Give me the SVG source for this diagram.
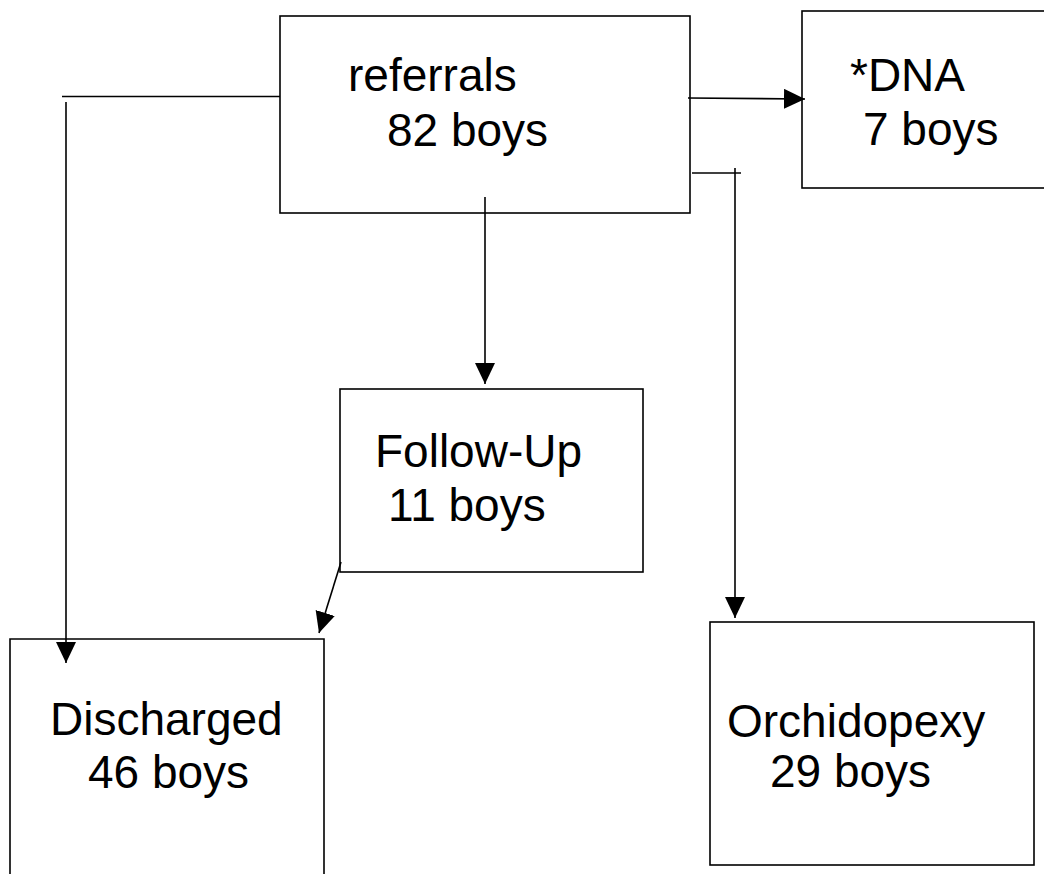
<svg xmlns="http://www.w3.org/2000/svg" width="1044" height="874" viewBox="0 0 1044 874">
<style>
.box{fill:#fff;stroke:#000;stroke-width:1.6}
.ln{fill:none;stroke:#000;stroke-width:1.6}
.t{font-family:"Liberation Sans",Arial,sans-serif;font-size:46px;fill:#000}
</style>
<defs>
<marker id="ah" markerUnits="userSpaceOnUse" markerWidth="22" markerHeight="20" refX="21" refY="10" orient="auto">
<path d="M0,0 L21,10 L0,20 Z" fill="#000"/>
</marker>
</defs>
<rect width="1044" height="874" fill="#fff"/>
<g id="referrals">
<rect class="box" x="280" y="16" width="410" height="197"/>
<text class="t" x="348" y="91">referrals</text>
<text class="t" x="387" y="146">82 boys</text>
</g>
<g id="dna">
<rect class="box" x="802" y="11" width="260" height="177"/>
<text class="t" x="850" y="91">*DNA</text>
<text class="t" x="863" y="145">7 boys</text>
</g>
<g id="followup">
<rect class="box" x="340" y="389" width="303" height="183"/>
<text class="t" x="375" y="467">Follow-Up</text>
<text class="t" x="388" y="521">11 boys</text>
</g>
<g id="discharged">
<path class="ln" d="M10,880 V639 H324 V880"/>
<text class="t" x="50" y="735">Discharged</text>
<text class="t" x="88" y="788">46 boys</text>
</g>
<g id="orchidopexy">
<rect class="box" x="710" y="622" width="324" height="243"/>
<text class="t" x="727" y="737">Orchidopexy</text>
<text class="t" x="770" y="787">29 boys</text>
</g>
<g id="connectors">
<line class="ln" x1="62" y1="96.5" x2="280" y2="96.5"/>
<line class="ln" x1="66" y1="102" x2="66" y2="663" marker-end="url(#ah)"/>
<line class="ln" x1="688" y1="98" x2="805" y2="99" marker-end="url(#ah)"/>
<line class="ln" x1="692" y1="173" x2="741" y2="173"/>
<line class="ln" x1="735" y1="168" x2="735" y2="618" marker-end="url(#ah)"/>
<line class="ln" x1="485" y1="197" x2="485" y2="384" marker-end="url(#ah)"/>
<line class="ln" x1="341" y1="562" x2="319" y2="633" marker-end="url(#ah)"/>
</g>
</svg>
